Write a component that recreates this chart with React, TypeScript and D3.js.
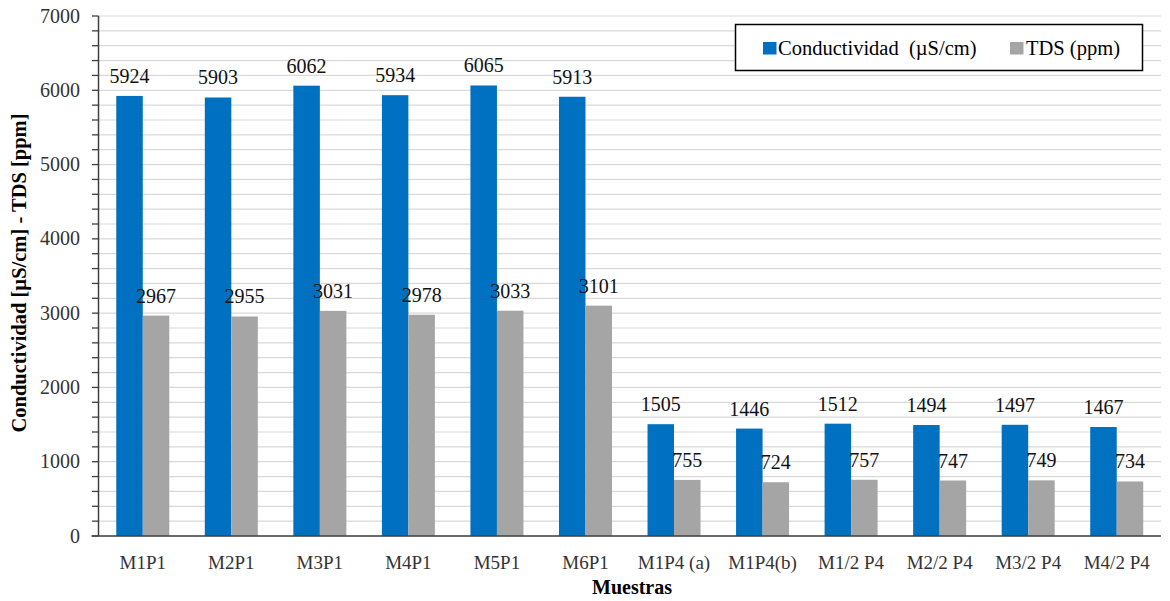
import React from "react";
import * as d3 from "d3";

const categories = [
  "M1P1", "M2P1", "M3P1", "M4P1", "M5P1", "M6P1",
  "M1P4 (a)", "M1P4(b)", "M1/2 P4", "M2/2 P4", "M3/2 P4", "M4/2 P4",
];
const conductividad = [5924, 5903, 6062, 5934, 6065, 5913, 1505, 1446, 1512, 1494, 1497, 1467];
const tds = [2967, 2955, 3031, 2978, 3033, 3101, 755, 724, 757, 747, 749, 734];
const yTicks = [0, 1000, 2000, 3000, 4000, 5000, 6000, 7000];

const series = [
  { key: "cond", name: "Conductividad  (\u00b5S/cm)", values: conductividad, color: "#0070C0" },
  { key: "tds", name: "TDS (ppm)", values: tds, color: "#A5A5A5" },
];

const W = 1170;
const H = 601;
const left = 98.5;
const right = 1161;
const top = 16;
const bottom = 536;
const font = "'Liberation Serif', 'Times New Roman', serif";

export default function App() {
  const x = d3.scaleBand<string>().domain(categories).range([left, right]);
  const y = d3.scaleLinear().domain([0, 7000]).range([bottom, top]);
  const barW = 26.5;
  const sub = d3
    .scaleBand<string>()
    .domain(series.map((s) => s.key))
    .range([x.bandwidth() / 2 - barW, x.bandwidth() / 2 + barW]);
  const minor = d3.range(0, 7001, 200);

  return (
    <svg
      width={W}
      height={H}
      style={{ position: "absolute", left: 0, top: 0, background: "#fff" }}
      fontFamily={font}
    >
      {/* gridlines every 200 */}
      {minor.map((v) => (
        <line key={"g" + v} x1={left} x2={right} y1={y(v)} y2={y(v)} stroke="#D9D9D9" strokeWidth={1.2} />
      ))}
      {/* y tick marks */}
      {minor.map((v) => (
        <line key={"t" + v} x1={left - 6.5} x2={left} y1={y(v)} y2={y(v)} stroke="#404040" strokeWidth={1.3} />
      ))}
      {/* bars */}
      {categories.map((c, i) => (
        <g key={c} transform={`translate(${x(c)},0)`}>
          {series.map((s) => (
            <rect
              key={s.key}
              x={sub(s.key)}
              y={y(s.values[i])}
              width={sub.bandwidth()}
              height={bottom - y(s.values[i])}
              fill={s.color}
            />
          ))}
        </g>
      ))}
      {/* value labels */}
      {categories.map((c, i) => (
        <g key={"l" + c} transform={`translate(${x(c)},0)`}>
          {series.map((s) => (
            <text
              key={s.key}
              x={(sub(s.key) ?? 0) + sub.bandwidth() / 2}
              y={y(s.values[i]) - 13}
              textAnchor="middle"
              fontSize={20}
              fill="#111"
            >
              {s.values[i]}
            </text>
          ))}
        </g>
      ))}
      {/* axes */}
      <line x1={left} x2={left} y1={top} y2={bottom} stroke="#404040" strokeWidth={1.5} />
      <line x1={left - 7} x2={right} y1={bottom} y2={bottom} stroke="#404040" strokeWidth={1.5} />
      {yTicks.map((v) => (
        <text key={"yl" + v} x={80} y={y(v) + 6.5} textAnchor="end" fontSize={20} fill="#333">
          {v}
        </text>
      ))}
      {categories.map((c) => (
        <text
          key={"xl" + c}
          x={(x(c) ?? 0) + x.bandwidth() / 2}
          y={569}
          textAnchor="middle"
          fontSize={19}
          fill="#333"
        >
          {c}
        </text>
      ))}
      {/* axis titles */}
      <text
        transform={`translate(26,${(top + bottom) / 2 - 3}) rotate(-90)`}
        textAnchor="middle"
        fontSize={20.5}
        fontWeight="bold"
        fill="#000"
      >
        Conductividad [µS/cm] - TDS [ppm]
      </text>
      <text x={632} y={594} textAnchor="middle" fontSize={20} fontWeight="bold" fill="#000">
        Muestras
      </text>
      {/* legend */}
      <g>
        <rect x={735.5} y={24.5} width={407} height={46} fill="#fff" stroke="#000" strokeWidth={1.5} />
        <rect x={763} y={42} width={13.5} height={12.5} fill={series[0].color} />
        <text x={778} y={54.5} fontSize={20.5} fill="#000" style={{ whiteSpace: "pre" }}>
          {series[0].name}
        </text>
        <rect x={1010} y={42} width={13.5} height={12.5} fill={series[1].color} />
        <text x={1026} y={54.5} fontSize={20.5} fill="#000">
          {series[1].name}
        </text>
      </g>
    </svg>
  );
}
